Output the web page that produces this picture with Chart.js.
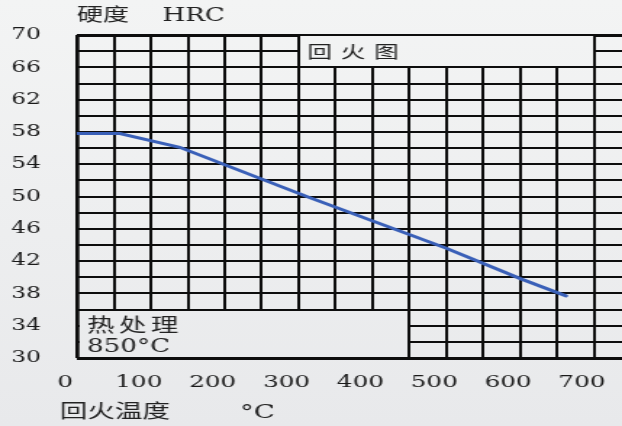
<!DOCTYPE html>
<html><head><meta charset="utf-8">
<script src="https://cdn.jsdelivr.net/npm/chart.js@4.4.1/dist/chart.umd.min.js"></script>
<style>
html,body{margin:0;padding:0;}
body{width:622px;height:426px;overflow:hidden;background:linear-gradient(to bottom,#f3f4f4,#e8e9eb);}
#wrap{width:429px;height:426px;transform:scaleX(1.45);transform-origin:0 0;}
canvas{display:block;}
</style></head><body>
<div id="wrap"><canvas id="c" width="429" height="426"></canvas></div>
<script>
// ---- data ----
const temperatures = [0, 58, 139, 311, 500, 601, 662];
const hardness     = [57.8, 57.8, 56.1, 50.0, 43.6, 39.8, 37.7];
const xGridValues  = [0, 50, 100, 150, 200, 250, 300, 350, 400, 450, 500, 550, 600, 650, 700];
const xTickValues  = [0, 100, 200, 300, 400, 500, 600, 700];
const xTickLabels  = ['0', '100', '200', '300', '400', '500', '600', '700'];
const yTickValues  = [30, 34, 38, 42, 46, 50, 54, 58, 62, 66, 70];
const yTickLabels  = ['30', '34', '38', '42', '46', '50', '54', '58', '62', '66', '70'];
const yAxisTitle   = '硬度    HRC';
const xAxisTitle   = '回火温度        °C';
const chartTitle   = '回火图';
const treatLines   = ['热处理', '850°C'];

const SERIF = "'DejaVu Serif', 'Noto Sans CJK SC', serif";
const CJK = "'Noto Sans CJK SC', sans-serif";

const panels = [
  {x0: 300, x1: 700, y0: 66, y1: 70, lines: [chartTitle], fonts: ['17px ' + CJK], spacing: [6], rows: [0.5], indent: 6},
  {x0: 0, x1: 450, y0: 30, y1: 36, lines: treatLines, fonts: ['19px ' + CJK, '18px ' + SERIF], spacing: [3, 0], rows: [0.32, 0.77], indent: 7}
];

const panelPlugin = {
  id: 'panels',
  beforeDatasetsDraw(chart) {
    const {ctx, scales: {x, y}} = chart;
    panels.forEach(p => {
      const l = x.getPixelForValue(p.x0), r = x.getPixelForValue(p.x1);
      const t = y.getPixelForValue(p.y1), b = y.getPixelForValue(p.y0);
      const il = p.x0 === x.min ? 1.5 : 1.05;
      ctx.clearRect(l + il, t + 1.05, r - l - il - 1.05, b - t - 2.1);
      ctx.save();
      ctx.fillStyle = '#222';
      ctx.textAlign = 'left';
      ctx.textBaseline = 'middle';
      p.lines.forEach((txt, i) => {
        ctx.font = p.fonts[i];
        ctx.letterSpacing = p.spacing[i] + 'px';
        ctx.fillText(txt, l + p.indent, t + (b - t) * p.rows[i]);
      });
      ctx.restore();
    });
  }
};

new Chart(document.getElementById('c'), {
  type: 'line',
  data: {
    datasets: [{
      data: temperatures.map((t, i) => ({x: t, y: hardness[i]})),
      borderColor: '#3a60b8',
      borderWidth: 3,
      borderCapStyle: 'round',
      pointRadius: 0,
      tension: 0,
      fill: false
    }]
  },
  options: {
    responsive: false,
    animation: false,
    devicePixelRatio: 1,
    layout: {padding: {left: 5, right: 0, top: 0, bottom: 0}},
    plugins: {
      legend: {display: false},
      tooltip: {enabled: false},
      title: {
        display: true, text: yAxisTitle, align: 'start', fullSize: false,
        color: '#222', font: {family: SERIF, size: 18, weight: 'normal'},
        padding: {top: 6, bottom: 7.5}
      },
      subtitle: {
        display: true, text: '      ' + xAxisTitle, position: 'bottom', align: 'start', fullSize: true,
        color: '#222', font: {family: SERIF, size: 19, weight: 'normal'},
        padding: {top: 5.6, bottom: 1.6}
      }
    },
    scales: {
      x: {
        type: 'linear', min: 0, max: 738,
        afterBuildTicks: axis => { axis.ticks = xGridValues.map(v => ({value: v})); },
        afterFit: axis => { axis.height = 38; axis.paddingLeft = 0; axis.paddingRight = 0; },
        grid: {color: '#0d0d0d', lineWidth: c => c.index === 0 ? 2.75 : 2, drawTicks: false},
        border: {display: false},
        ticks: {
          autoSkip: false, maxRotation: 0, padding: 14, labelOffset: -8.3,
          color: '#1a1a1a', font: {family: SERIF, size: 17},
          callback: v => { const i = xTickValues.indexOf(v); return i >= 0 ? xTickLabels[i] : ''; }
        }
      },
      y: {
        type: 'linear', min: 30, max: 70,
        afterFit: axis => { axis.width = 48.1; axis.paddingTop = 0; axis.paddingBottom = 0; },
        grid: {color: '#0d0d0d', lineWidth: c => (c.tick && (c.tick.value === 30 || c.tick.value === 70)) ? 3 : 2, drawTicks: false},
        border: {display: false},
        ticks: {
          stepSize: 2, autoSkip: false, padding: 25, crossAlign: 'center',
          color: '#1a1a1a', font: {family: SERIF, size: 16},
          callback: v => { const i = yTickValues.indexOf(v); return i >= 0 ? yTickLabels[i] : ''; }
        }
      }
    }
  },
  plugins: [panelPlugin]
});
</script>
</body></html>
